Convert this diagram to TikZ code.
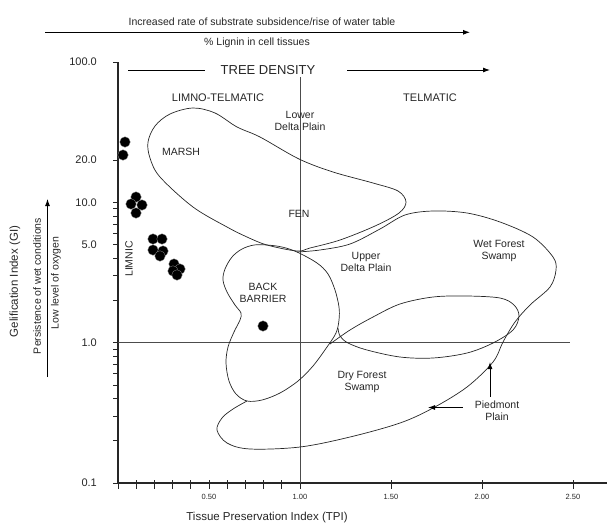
\documentclass[tikz,border=0pt]{standalone}
\usepackage{fontspec}
\setmainfont{Liberation Sans}
\usetikzlibrary{arrows.meta,positioning}

\newcommand{\fs}[1]{\fontsize{#1}{#1}\selectfont}

\begin{document}
\begin{tikzpicture}[
  x=1pt, y=-1pt,
  >={Latex[length=7pt,width=5pt]},
  font=\fontsize{10.5}{12}\selectfont,
  zone/.style={line width=0.7pt, black!85},
  guide/.style={line width=0.8pt, black!70},
  axis/.style={line width=1.4pt, black!85},
  tick/.style={line width=0.7pt, black!85},
  lbl/.style={text=black!85, align=center, inner sep=0pt},
  sample/.style={circle, fill=black, draw=black!45, line width=0.3pt,
                 inner sep=0pt, minimum size=10.5pt},
]
\useasboundingbox (0,0) rectangle (607,525);

% axes
\coordinate (o) at (118,483);
\draw[axis] (118,62) -- (o) -- (607,483);
\foreach \v in {1,...,9} {
  \draw[tick] (113,{483-140.3*log10(\v)}) -- (118,{483-140.3*log10(\v)});
  \draw[tick] (113,{342.7-140.3*log10(\v)}) -- (118,{342.7-140.3*log10(\v)});
}
\foreach \v in {10,20,100} {
  \draw[tick] (113,{342.7-140.3*log10(\v)}) -- (118,{342.7-140.3*log10(\v)});
}
\foreach \v/\t [count=\i] in {0.1/0.1,1/1.0,5/5.0,10/10.0,20/20.0,100/100.0} {
  \node[lbl, anchor=east, font=\fs{11}] (gi\i) at (97,{342.7-140.3*log10(\v)}) {\t};
}
\foreach \x in {0,...,10} {
  \draw[tick] ({118+18.2*\x},480) -- ({118+18.2*\x},489);
}
\foreach \x in {1.5,2,2.5} {
  \draw[tick] ({118+182*\x},480) -- ({118+182*\x},489);
}
\foreach \x/\t [count=\i] in {0.5/0.50,1/1.00,1.5/1.50,2/2.00,2.5/2.50} {
  \node[lbl, font=\fs{7.5}] (tpi\i) at ({118+182*\x},497) {\t};
}

% axis titles
\node[lbl, font=\fs{11.5}] (xtitle) at (267,518) {Tissue Preservation Index (TPI)};
\node[lbl, font=\fs{11.5}, rotate=90] (ytitle) at (15,281.5) {Gelification Index (GI)};
\node[lbl, rotate=90] (wet) at (37,286) {Persistence of wet conditions};
\node[lbl, rotate=90] (oxy) at (56,283) {Low level of oxygen};
\coordinate (wet-tail) at (47.5,377);
\coordinate (wet-tip) at (47.5,199);
\draw[->, line width=0.9pt] (wet-tail) -- (wet-tip);

% top arrows
\node[lbl] (subs) at (262,22) {Increased rate of substrate subsidence/rise of water table};
\coordinate (subs-tail) at (45,32.3);
\coordinate (subs-tip) at (470,32.3);
\draw[->, line width=0.9pt] (subs-tail) -- (subs-tip);
\node[lbl] (lignin) at (257,42.5) {\% Lignin in cell tissues};

\node[lbl, font=\fs{13}] (tree) at (268,70) {TREE DENSITY};
\coordinate (tree-tail) at (128,70);
\coordinate (tree-l) at (205,70);
\coordinate (tree-r) at (347,70);
\coordinate (tree-tip) at (490,70);
\draw[line width=0.9pt] (tree-tail) -- (tree-l);
\draw[->, line width=0.9pt] (tree-r) -- (tree-tip);

% TPI = 1 and GI = 1
\coordinate (tpi-top) at (300,77);
\coordinate (tpi-bot) at (300,483);
\coordinate (gi-left) at (118,342.7);
\coordinate (gi-right) at (570,342.7);
\draw[guide] (tpi-top) -- (tpi-bot);
\draw[guide] (gi-left) -- (gi-right);

% facies fields
\draw[zone] plot[smooth cycle, tension=0.55] coordinates {
  (297,251) (267,245) (247,237) (227,227) (193,207) (160,177) (150,158)
  (148,142) (155,126) (170,114) (193,108) (215,113) (237,127) (260,137)
  (299,159) (333,172) (373,183) (398,191) (406,202) (399,213) (375,226)
  (340,240) (310,248)};
\draw[zone] plot[smooth cycle, tension=0.55] coordinates {
  (267,245) (282,247) (297,252) (317,263) (328,274) (335,290) (339,307)
  (339,320) (336,333) (327,347) (313,366) (298,381) (280,393) (262,400)
  (247,401) (236,394) (229,381) (226,363) (228,347) (234,332) (240,320)
  (241,313) (235,305) (227,292) (223,280) (225,269) (232,257) (242,249)
  (254,245)};
\draw[zone] plot[smooth, tension=0.55] coordinates {
  (297,252) (320,250) (350,244) (380,229) (405,215) (433,211) (467,213)
  (500,222) (533,237) (553,257) (556,270) (550,287) (530,305) (515,322)
  (503,342) (493,362) (467,387) (433,408) (400,423) (350,437) (300,447)
  (250,449) (227,443) (217,430) (222,418) (233,409) (247,401)};
\draw[zone] plot[smooth, tension=0.55] coordinates {
  (330,344) (350,330) (373,317) (400,304) (433,297) (467,296) (500,298)
  (514,305) (519,316) (513,330) (493,343) (467,353) (433,358) (400,357)
  (367,350) (348,343) (340,336) (338,328)};

% samples
\foreach \x/\y [count=\i] in {125/142,123/155,136/197,131/204,142/205,136/213,
    153/239,162/239,153/250,163/251,160/256,174/264,180/269,173/271,177/275,
    263/326} {
  \node[sample] (pt\i) at (\x,\y) {};
}

% labels
\node[lbl, font=\fs{11}] (limtel) at (218,98) {LIMNO-TELMATIC};
\node[lbl, font=\fs{11}] (telm) at (430,98) {TELMATIC};
\node[lbl] (ldp) at (300,121) {Lower\\Delta Plain};
\node[lbl] (marsh) at (181,152) {MARSH};
\node[lbl] (fen) at (299,214) {FEN};
\node[lbl] (udp) at (366,261.5) {Upper\\Delta Plain};
\node[lbl] (wfs) at (499,251) {Wet Forest\\Swamp};
\node[lbl] (bb) at (263,293) {BACK\\BARRIER};
\node[lbl] (dfs) at (362,382) {Dry Forest\\Swamp};
\node[lbl, rotate=90] (limnic) at (129,259) {LIMNIC};

\node[lbl] (piedmont) at (497,411) {Piedmont\\Plain};
\coordinate (pm-up) at (490,362);
\coordinate (pm-left) at (428,407.5);
\draw[->, line width=0.9pt] ([yshift=4pt]piedmont.north -| pm-up) -- (pm-up);
\draw[->, line width=0.9pt] ([xshift=-12pt]piedmont.west |- pm-left) -- (pm-left);

\end{tikzpicture}
\end{document}
